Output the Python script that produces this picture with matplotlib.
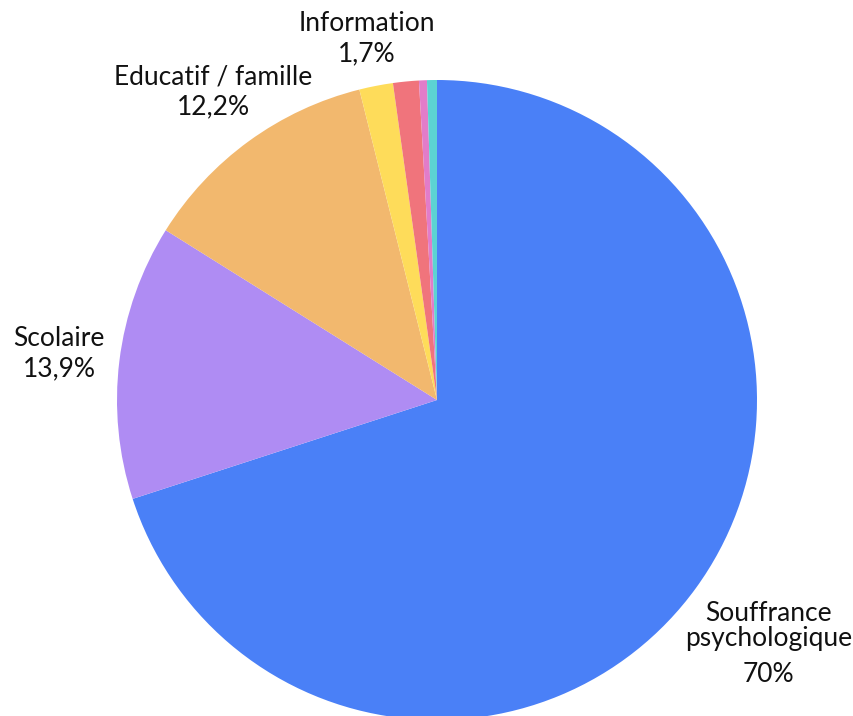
import numpy as np
import matplotlib
matplotlib.use("Agg")
import matplotlib.pyplot as plt

# slices, clockwise from the top
categories = ["Souffrance\npsychologique", "Scolaire", "Educatif / famille",
              "Information", "Autre 1", "Autre 2", "Autre 3"]
values = [70.0, 13.9, 12.2, 1.7, 1.3, 0.4, 0.5]
pct_labels = ["70%", "13,9%", "12,2%", "1,7%", None, None, None]
colors = ["#4a80f7", "#af8cf3", "#f2b86e", "#fedc5a", "#f0747c", "#e27cc9", "#5cd3d3"]
label_dist = [1.28, 1.19, 1.19, 1.15, None, None, None]

plt.rcParams["font.family"] = ["Lato", "DejaVu Sans"]

fig = plt.figure(figsize=(8.54, 7.16), dpi=100)
ax = fig.add_axes([0, 0, 1, 1])

cx, cy, r = 437, 716 - 400, 320
wedges, _ = ax.pie(values, colors=colors, startangle=90, counterclock=False,
                   center=(cx, cy), radius=r,
                   wedgeprops=dict(linewidth=0, antialiased=True))

fs = 19
for w, cat, pct, d in zip(wedges, categories, pct_labels, label_dist):
    if pct is None:
        continue
    mid = np.deg2rad((w.theta1 + w.theta2) / 2)
    x = cx + r * d * np.cos(mid)
    y = cy + r * d * np.sin(mid)
    if "\n" in cat:
        ax.text(x, y + 15, cat, ha="center", va="center", fontsize=fs,
                linespacing=1.0, color="#111111")
        ax.text(x, y - 34, pct, ha="center", va="center", fontsize=fs, color="#111111")
    else:
        ax.text(x, y, cat + "\n" + pct, ha="center", va="center", fontsize=fs,
                linespacing=1.25, color="#111111")

ax.set_xlim(0, 854)
ax.set_ylim(0, 716)
ax.set_aspect("equal")
ax.axis("off")

fig.savefig("out.png", dpi=100)
